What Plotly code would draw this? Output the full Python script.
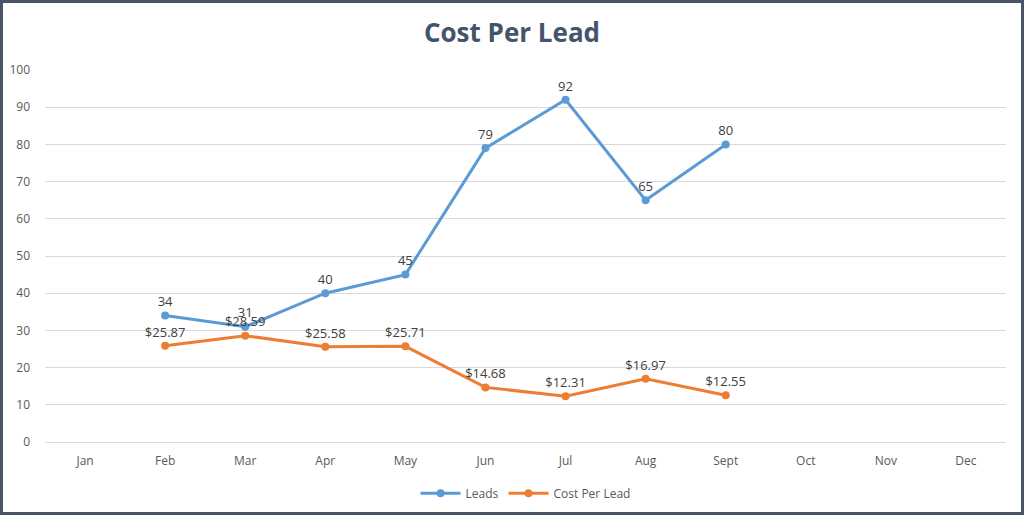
import plotly.graph_objects as go

months = ["Jan", "Feb", "Mar", "Apr", "May", "Jun", "Jul", "Aug", "Sept", "Oct", "Nov", "Dec"]
lead_months = ["Feb", "Mar", "Apr", "May", "Jun", "Jul", "Aug", "Sept"]
leads = [34, 31, 40, 45, 79, 92, 65, 80]
cost_per_lead = [25.87, 28.59, 25.58, 25.71, 14.68, 12.31, 16.97, 12.55]
y_ticks = [0, 10, 20, 30, 40, 50, 60, 70, 80, 90, 100]

W, H = 1024, 515
ml, mr, mt, mb = 45, 18, 70, 73
pw, ph = W - ml - mr, H - mt - mb

fig = go.Figure()
fig.add_trace(go.Scatter(
    x=lead_months, y=leads, name="Leads", mode="lines+markers+text",
    line=dict(color="#5B9BD5", width=3), marker=dict(size=8, color="#5B9BD5"),
    text=[str(v) for v in leads], textposition="top center",
    textfont=dict(size=13, color="#404040"),
))
fig.add_trace(go.Scatter(
    x=lead_months, y=cost_per_lead, name="Cost Per Lead", mode="lines+markers+text",
    line=dict(color="#ED7D31", width=3), marker=dict(size=8, color="#ED7D31"),
    text=[f"${v:.2f}" for v in cost_per_lead], textposition="top center",
    textfont=dict(size=13, color="#404040"),
))

fig.update_layout(
    width=W, height=H,
    margin=dict(l=ml, r=mr, t=mt, b=mb, autoexpand=False),
    paper_bgcolor="white", plot_bgcolor="white",
    font=dict(family="Open Sans, Liberation Sans, sans-serif", color="#595959"),
    title=dict(text="<b>Cost Per Lead</b>", x=0.5, xanchor="center", y=0.936, yanchor="middle",
               font=dict(size=26, color="#44546A", family="Open Sans, sans-serif")),
    xaxis=dict(type="category", categoryorder="array", categoryarray=months,
               range=[-0.5, 11.5], showgrid=False, showline=False, ticks="",
               ticklabelstandoff=10,
               automargin=False, tickfont=dict(size=12, color="#595959")),
    yaxis=dict(range=[0, 100], tickvals=y_ticks, showgrid=True, gridcolor="#D9D9D9",
               gridwidth=1, zeroline=True, zerolinecolor="#D9D9D9", zerolinewidth=1,
               showline=False, ticks="", ticklabelstandoff=14, automargin=False,
               tickfont=dict(size=12, color="#595959")),
    legend=dict(orientation="h", x=0.5, xanchor="center", y=-0.099, yanchor="top",
                bgcolor="rgba(0,0,0,0)",
                font=dict(size=12, color="#595959"), itemwidth=40),
    showlegend=True,
)
fig.add_shape(type="rect", xref="paper", yref="paper",
              x0=-ml / pw + 1.5 / pw, x1=1 + mr / pw - 1.5 / pw,
              y0=-mb / ph + 1.5 / ph, y1=1 + mt / ph - 1.5 / ph,
              line=dict(color="#4A5468", width=3), layer="below")

fig.write_html("out.html", config={"displayModeBar": False},
               post_script="document.body.style.margin='0';document.body.style.overflow='hidden';")
